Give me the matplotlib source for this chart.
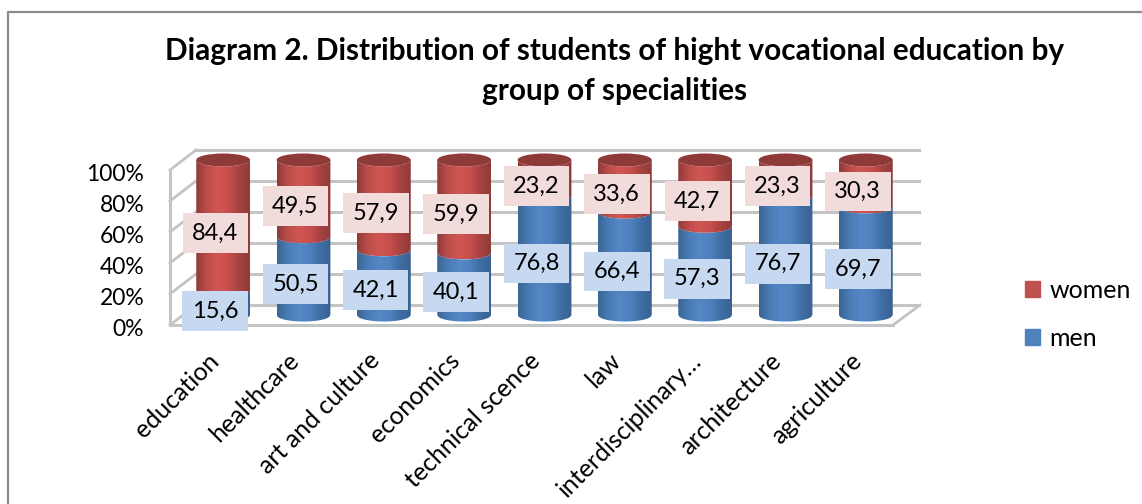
import numpy as np
import matplotlib
matplotlib.use('Agg')
import matplotlib.pyplot as plt
from matplotlib.colors import LinearSegmentedColormap
from matplotlib.lines import Line2D
from matplotlib.patches import Patch, PathPatch, Ellipse
from matplotlib.path import Path
from matplotlib.transforms import Affine2D, ScaledTranslation

plt.rcParams['font.family'] = ['Lato', 'DejaVu Sans']

categorias = ['education', 'healthcare', 'art and culture', 'economics', 'technical scence',
              'law', 'interdisciplinary…', 'architecture', 'agriculture']
men = [15.6, 50.5, 42.1, 40.1, 76.8, 66.4, 57.3, 76.7, 69.7]
women = [84.4, 49.5, 57.9, 59.9, 23.2, 33.6, 42.7, 23.3, 30.3]
rotulos_men = ['15,6', '50,5', '42,1', '40,1', '76,8', '66,4', '57,3', '76,7', '69,7']
rotulos_women = ['84,4', '49,5', '57,9', '59,9', '23,2', '33,6', '42,7', '23,3', '30,3']
ticks_y = [0, 20, 40, 60, 80, 100]

titulo = 'Diagram 2. Distribution of students of hight vocational education by\ngroup of specialities'

W, H = 1142, 504
fig = plt.figure(figsize=(W / 100, H / 100), dpi=100)
pixels = Affine2D().scale(1, -1).translate(0, H)  # coordenadas de tela, y para baixo

# moldura do grafico
fig.add_artist(Line2D([8, 8, W], [H, 12, 12], color='#8c8c8c', lw=1.6, transform=pixels))

ax = fig.add_axes([170 / W, (H - 325) / H, 723 / W, 155 / H])
ax.set_facecolor('none')
for s in ax.spines.values():
    s.set_visible(False)


def desloca(dx, dy):
    return ax.transData + ScaledTranslation(dx / 100, dy / 100, fig.dpi_scale_trans)


fundo = desloca(26, 20)
meio = desloca(13, 10)
cor_grade = '#c4c4c4'

# grade: parede do fundo, parede lateral e chao
for v in ticks_y:
    if v > 0:
        ax.plot([-0.5, 8.5], [v, v], color=cor_grade, lw=2.2, transform=fundo, clip_on=False, zorder=1)
    ax.plot([170, 196], [325 - v * 1.55, 305 - v * 1.55], color=cor_grade, lw=2, zorder=1, clip_on=False,
            transform=pixels)
ax.plot([-0.5, -0.5], [0, 100], color=cor_grade, lw=2.2, clip_on=False, zorder=1)
ax.plot([-0.5, 8.5], [0, 0], color=cor_grade, lw=2.2, clip_on=False, zorder=1)
ax.plot([-0.5, 8.5], [0, 0], color=cor_grade, lw=2.2, clip_on=False, zorder=1, transform=fundo)
ax.plot([893, 920], [325, 305], color=cor_grade, lw=2, clip_on=False, zorder=1, transform=pixels)

larg = 0.335
ry = 4.2
cmap_men = LinearSegmentedColormap.from_list('m', ['#3a6595', '#4a7cb6', '#5387c6', '#4f82bf', '#3f6ea6', '#39628f'])
cmap_women = LinearSegmentedColormap.from_list('w', ['#8f3b39', '#bd4d4a', '#d05653', '#c84f4c', '#a84341', '#8f3b39'])
grad = np.linspace(0, 1, 64).reshape(1, -1)


def corpo(x, y0, y1, cmap):
    t = np.linspace(-1, 1, 41)
    xs = x + larg * t
    arco = ry * np.sqrt(1 - t ** 2)
    verts = np.concatenate([np.column_stack([xs, y0 - arco]), np.column_stack([xs[::-1], y1 - arco[::-1]])])
    p = PathPatch(Path(verts), fc='none', ec='none', transform=meio, clip_on=False)
    ax.add_patch(p)
    im = ax.imshow(grad, cmap=cmap, aspect='auto', extent=[x - larg, x + larg, y0 - ry, y1 + ry],
                   transform=meio, zorder=2, interpolation='bilinear')
    im.set_clip_box(fig.bbox)
    im.set_clip_path(p)


for i in range(len(categorias)):
    corpo(i, 0, men[i], cmap_men)
    corpo(i, men[i], men[i] + women[i], cmap_women)
    ax.add_patch(Ellipse((i, men[i] + women[i]), 2 * larg, 2 * ry, fc='#8e3a38', ec='none',
                         transform=meio, zorder=3, clip_on=False))
    ax.annotate(rotulos_men[i], (i, men[i] / 2), xytext=(5, 2), textcoords='offset pixels', ha='center',
                va='center', fontsize=17, zorder=5, color='black',
                bbox=dict(boxstyle='square,pad=0.4', fc='#c6d9f1', ec='none'))
    ax.annotate(rotulos_women[i], (i, men[i] + women[i] / 2), xytext=(5, 2), textcoords='offset pixels', ha='center',
                va='center', fontsize=17, zorder=5, color='black',
                bbox=dict(boxstyle='square,pad=0.4', fc='#f2dcdb', ec='none'))

ax.set_xlim(-0.5, 8.5)
ax.set_ylim(0, 100)
ax.set_yticks(ticks_y)
ax.set_yticklabels(['{0}%'.format(v) for v in ticks_y], fontsize=16.5, va='center')
ax.tick_params(axis='y', length=0, pad=18.5)
ax.set_xticks(range(len(categorias)))
ax.set_xticklabels(categorias, rotation=45, ha='right', rotation_mode='anchor', fontsize=18)
ax.tick_params(axis='x', length=0, pad=17)
for rotulo in ax.get_yticklabels():
    rotulo.set_transform(rotulo.get_transform() + ScaledTranslation(0, -0.045, fig.dpi_scale_trans))
for rotulo in ax.get_xticklabels():
    rotulo.set_transform(rotulo.get_transform() + ScaledTranslation(-0.03, 0, fig.dpi_scale_trans))

fig.text(614.5 / W, 1 - 71 / H, titulo, ha='center', va='center', fontsize=21.4, fontweight='bold',
         color='black', linespacing=1.5)

fig.legend(handles=[Patch(color='#c0504d', label='women'), Patch(color='#4f81bd', label='men')],
           loc='upper left', bbox_to_anchor=(1002 / W, 1 - 256 / H), frameon=False, fontsize=18,
           handlelength=0.6, handleheight=0.6, labelspacing=1.0, handletextpad=0.4)

fig.savefig('out.png', dpi=100)
